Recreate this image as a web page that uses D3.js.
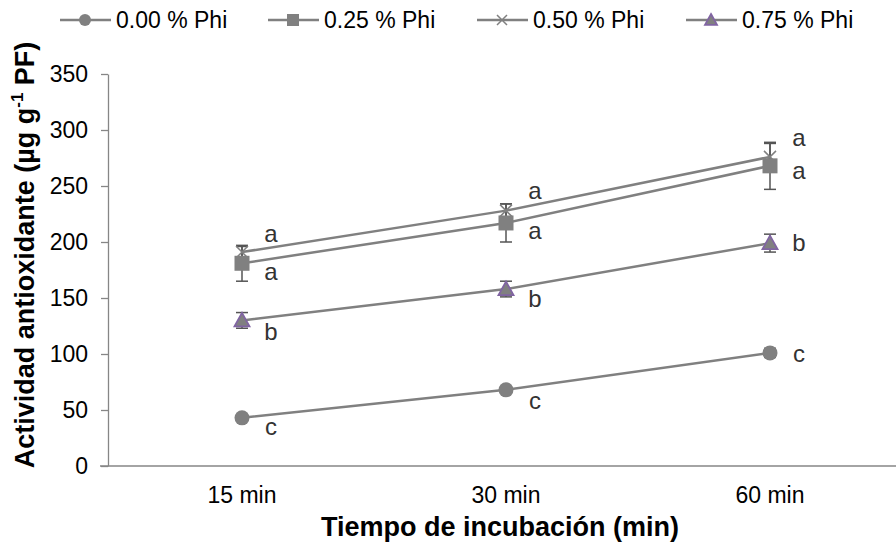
<!DOCTYPE html>
<html>
<head>
<meta charset="utf-8">
<script src="https://cdn.jsdelivr.net/npm/d3@7"></script>
<style>
  body { margin: 0; background: #fff; }
  svg { font-family: Arial, "Liberation Sans", sans-serif; }
</style>
</head>
<body>
<svg id="chart" width="896" height="544"></svg>
<script>
// data
const times = ['15 min', '30 min', '60 min'];
const seriesNames = ['0.00 % Phi', '0.25 % Phi', '0.50 % Phi', '0.75 % Phi'];
const phi000 = [43, 68, 101];
const phi025 = [181, 217, 268];
const phi050 = [191, 228, 276];
const phi075 = [130, 158, 199];
const err000 = [3, 3, 4];
const err025 = [16, 17, 21];
const err050 = [5, 6, 12];
const err075 = [7, 7, 8];
const letters000 = ['c', 'c', 'c'];
const letters025 = ['a', 'a', 'a'];
const letters050 = ['a', 'a', 'a'];
const letters075 = ['b', 'b', 'b'];
const yTicks = [0, 50, 100, 150, 200, 250, 300, 350];

const svg = d3.select('#chart');
const width = +svg.attr('width');

const x = d3.scaleBand().domain(times).range([110, 902]);
const y = d3.scaleLinear().domain([0, 350]).range([466, 74]);

const lineCol = '#808080';
const purple = '#8064a2';
const fs = 23;

// label offsets (px) for the significance letters, per series
const labelDy = [[11, 13, 3], [10, 10, 7], [-17, -18, -17], [13, 11, 1]];

const series = [
  {name: seriesNames[0], vals: phi000, err: err000, let: letters000, shape: 'circle'},
  {name: seriesNames[1], vals: phi025, err: err025, let: letters025, shape: 'square'},
  {name: seriesNames[2], vals: phi050, err: err050, let: letters050, shape: 'cross'},
  {name: seriesNames[3], vals: phi075, err: err075, let: letters075, shape: 'triangle'}
];

// axes
const yAxis = svg.append('g')
  .attr('transform', 'translate(108,0)')
  .call(d3.axisLeft(y).tickValues(yTicks).tickSize(7).tickSizeOuter(0));
yAxis.select('.domain').attr('stroke', '#868686').attr('stroke-width', 1.3);
yAxis.selectAll('.tick line').attr('stroke', '#868686').attr('stroke-width', 1.3);
yAxis.selectAll('.tick text').attr('font-size', fs).attr('fill', '#000')
  .attr('font-family', 'Arial, "Liberation Sans", sans-serif').attr('dx', -10);

svg.append('line')
  .attr('x1', 100).attr('x2', width)
  .attr('y1', y(0)).attr('y2', y(0))
  .attr('stroke', '#868686').attr('stroke-width', 1.3);

svg.selectAll('.xlab')
  .data(times)
  .enter()
  .append('text')
  .attr('x', d => x(d) + x.bandwidth() / 2)
  .attr('y', 503)
  .attr('text-anchor', 'middle')
  .attr('font-size', fs)
  .text(d => d);

svg.append('text')
  .attr('x', 500).attr('y', 536)
  .attr('text-anchor', 'middle')
  .attr('font-size', 27).attr('font-weight', 'bold')
  .text('Tiempo de incubación (min)');

const yt = svg.append('text')
  .attr('transform', 'translate(34,255) rotate(-90)')
  .attr('text-anchor', 'middle')
  .attr('font-size', 27).attr('font-weight', 'bold');
yt.append('tspan').text('Actividad antioxidante (µg g');
yt.append('tspan').attr('font-size', 17).attr('dy', -11).text('-1');
yt.append('tspan').attr('dy', 11).text(' PF)');

function drawMarker(g, shape, cx, cy, s) {
  if (shape === 'circle') {
    g.append('circle').attr('cx', cx).attr('cy', cy).attr('r', s / 2)
      .attr('fill', lineCol);
  } else if (shape === 'square') {
    g.append('rect').attr('x', cx - s / 2).attr('y', cy - s / 2)
      .attr('width', s).attr('height', s).attr('fill', lineCol);
  } else if (shape === 'cross') {
    const h = s / 2 - 1;
    g.append('path')
      .attr('d', `M${cx - h},${cy - h}L${cx + h},${cy + h}M${cx - h},${cy + h}L${cx + h},${cy - h}`)
      .attr('stroke', lineCol).attr('stroke-width', 1.5).attr('fill', 'none');
  } else {
    const h = s / 2;
    g.append('path')
      .attr('d', `M${cx},${cy - h}L${cx + h},${cy + h * 0.8}L${cx - h},${cy + h * 0.8}Z`)
      .attr('fill', lineCol).attr('stroke', purple).attr('stroke-width', 1.8);
  }
}

const cx = d => x(d) + x.bandwidth() / 2;
const line = d3.line().x((d, i) => cx(times[i])).y(d => y(d));

// lines
series.forEach(s => {
  svg.append('path')
    .datum(s.vals)
    .attr('d', line)
    .attr('fill', 'none')
    .attr('stroke', lineCol)
    .attr('stroke-width', 2.5);
});

// error bars
series.forEach(s => {
  const eb = svg.append('g').attr('stroke', '#555').attr('stroke-width', 1.5);
  s.vals.forEach((v, i) => {
    const px = cx(times[i]);
    eb.append('line').attr('x1', px).attr('x2', px)
      .attr('y1', y(v - s.err[i])).attr('y2', y(v + s.err[i]));
    [v - s.err[i], v + s.err[i]].forEach(e => {
      eb.append('line').attr('x1', px - 6).attr('x2', px + 6)
        .attr('y1', y(e)).attr('y2', y(e));
    });
  });
});

// markers
series.forEach(s => {
  const g = svg.append('g');
  s.vals.forEach((v, i) => drawMarker(g, s.shape, cx(times[i]), y(v), s.shape === 'cross' ? 14 : 15));
});

// letters
series.forEach((s, k) => {
  svg.selectAll(null)
    .data(s.vals)
    .enter()
    .append('text')
    .attr('x', (d, i) => cx(times[i]) + 29)
    .attr('y', (d, i) => y(d) + labelDy[k][i])
    .attr('dy', '0.27em')
    .attr('text-anchor', 'middle')
    .attr('font-size', 24)
    .attr('fill', '#333')
    .text((d, i) => s.let[i]);
});

// legend
const legX = [60, 268, 477, 686];
series.forEach((s, k) => {
  const g = svg.append('g');
  g.append('line').attr('x1', legX[k]).attr('x2', legX[k] + 51)
    .attr('y1', 20).attr('y2', 20)
    .attr('stroke', lineCol).attr('stroke-width', 2.5);
  drawMarker(g, s.shape, legX[k] + 25, 20, 12);
  g.append('text').attr('x', legX[k] + 56).attr('y', 20).attr('dy', '0.35em')
    .attr('font-size', fs).text(s.name);
});
</script>
</body>
</html>
